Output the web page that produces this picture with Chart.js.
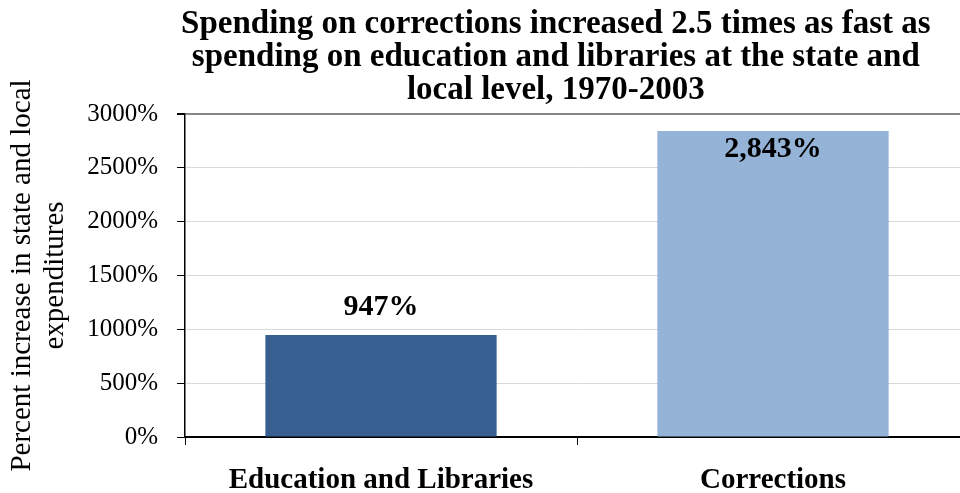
<!DOCTYPE html>
<html>
<head>
<meta charset="utf-8">
<script src="https://cdn.jsdelivr.net/npm/chart.js@4/dist/chart.umd.min.js"></script>
<style>
  html, body { margin: 0; padding: 0; background: #fff; overflow: hidden; }
  #wrap { width: 975px; height: 493px; position: relative; }
</style>
</head>
<body>
<div id="wrap"><canvas id="c"></canvas></div>
<script>
// Growth in state and local spending, 1970-2003
const categories = ['Education and Libraries', 'Corrections'];
const increasePct = [947, 2843];
const barColors = ['#376091', '#95B3D7'];
const yTicks = [0, 500, 1000, 1500, 2000, 2500, 3000];
const titleLines = [
  'Spending on corrections increased 2.5 times as fast as',
  'spending on education and libraries at the state and',
  'local level, 1970-2003'
];
const yTitleLines = ['Percent increase in state and local', 'expenditures'];

const SERIF = '"Liberation Serif", "Times New Roman", serif';

// Three-line title, centred slightly left of the plot centre
const titlePlugin = {
  id: 'stackedTitle',
  afterDraw(chart) {
    const ctx = chart.ctx;
    const area = chart.chartArea;
    const cx = area.left + (area.right - area.left) * 0.473;
    ctx.save();
    ctx.font = 'bold 33px ' + SERIF;
    ctx.fillStyle = '#000';
    ctx.textAlign = 'center';
    ctx.textBaseline = 'alphabetic';
    titleLines.forEach((line, i) => ctx.fillText(line, cx, 33 + i * 33));
    ctx.restore();
  }
};

// Value labels: above the bar, or tucked inside when the bar reaches the top
const valueLabels = {
  id: 'valueLabels',
  afterDatasetsDraw(chart) {
    const ctx = chart.ctx;
    const meta = chart.getDatasetMeta(0);
    const top = chart.chartArea.top;
    ctx.save();
    ctx.font = 'bold 30px ' + SERIF;
    ctx.fillStyle = '#000';
    ctx.textAlign = 'center';
    ctx.textBaseline = 'middle';
    meta.data.forEach((bar, i) => {
      const txt = increasePct[i].toLocaleString('en-US') + '%';
      let y = bar.y - 28;
      if (y - 15 < top) y = bar.y + 18;
      ctx.fillText(txt, bar.x, y);
    });
    ctx.restore();
  }
};

new Chart(document.getElementById('c'), {
  type: 'bar',
  data: {
    labels: categories,
    datasets: [{
      data: increasePct,
      backgroundColor: barColors,
      borderWidth: 0,
      barPercentage: 1,
      categoryPercentage: 0.59
    }]
  },
  options: {
    responsive: true,
    maintainAspectRatio: false,
    animation: false,
    devicePixelRatio: 1,
    layout: { padding: { top: 114, right: 6, left: 0, bottom: 0 } },
    plugins: {
      legend: { display: false },
      tooltip: { enabled: false },
      title: { display: false }
    },
    scales: {
      x: {
        offset: true,
        grid: {
          offset: true,
          drawOnChartArea: false,
          drawTicks: true,
          tickLength: 8,
          tickColor: '#000',
          tickWidth: 1
        },
        border: { display: true, color: '#000', width: 2 },
        ticks: {
          color: '#000',
          font: { family: SERIF, size: 29, weight: 'bold' },
          padding: 18,
          maxRotation: 0
        },
        afterFit(scale) { scale.height = 56; }
      },
      y: {
        min: 0,
        max: 3000,
        afterBuildTicks(scale) { scale.ticks = yTicks.map(v => ({ value: v })); },
        grid: {
          color: ctx => ctx.tick && ctx.tick.value === 3000 ? '#868686' : '#d9d9d9',
          lineWidth: ctx => ctx.tick && ctx.tick.value === 3000 ? 2 : 1,
          drawTicks: true,
          tickLength: 8,
          tickColor: '#000'
        },
        border: { display: true, color: '#000', width: 1.5 },
        ticks: {
          color: '#000',
          font: { family: SERIF, size: 25 },
          padding: 19,
          callback: v => v + '%'
        },
        title: {
          display: true,
          text: yTitleLines,
          color: '#000',
          font: { family: SERIF, size: 29, lineHeight: 1.14 },
          padding: { top: 6, bottom: 0 }
        },
        afterFit(scale) { scale.width = 185; }
      }
    }
  },
  plugins: [titlePlugin, valueLabels]
});
</script>
</body>
</html>
